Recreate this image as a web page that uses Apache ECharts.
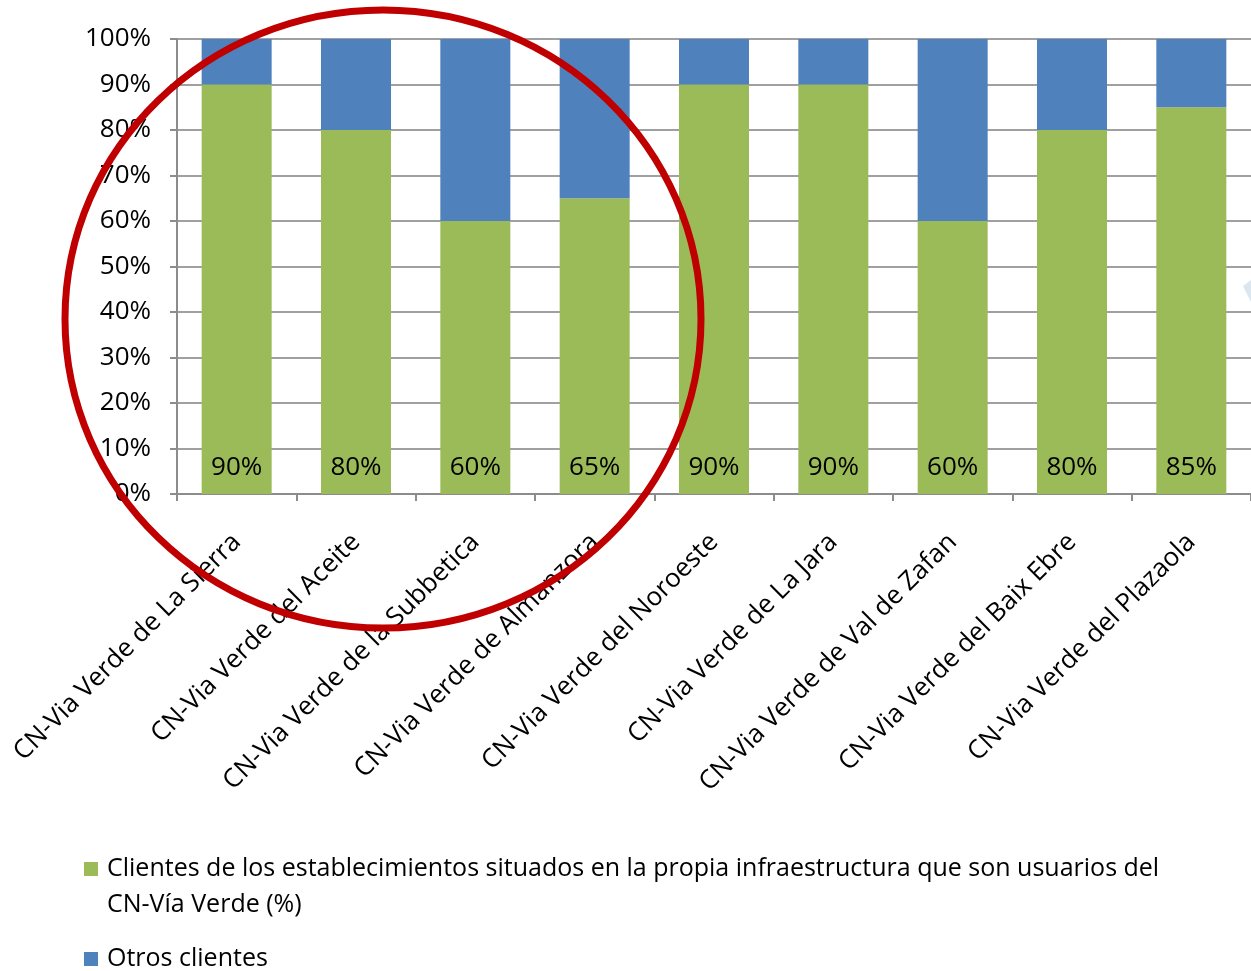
<!DOCTYPE html>
<html>
<head>
<meta charset="utf-8">
<script src="https://cdn.jsdelivr.net/npm/echarts@6/dist/echarts.min.js"></script>
<style>html,body{margin:0;padding:0;background:#fff}#c{width:1251px;height:971px}</style>
</head>
<body>
<div id="c"></div>
<script>
const categories = [
  'CN-Via Verde de La Sierra',
  'CN-Via Verde del Aceite',
  'CN-Via Verde de la Subbetica',
  'CN-Via Verde de Almanzora',
  'CN-Via Verde del Noroeste',
  'CN-Via Verde de La Jara',
  'CN-Via Verde de Val de Zafan',
  'CN-Via Verde del Baix Ebre',
  'CN-Via Verde del Plazaola'
];
const seriesNames = [
  'Clientes de los establecimientos situados en la propia infraestructura que son usuarios del CN-Vía Verde (%)',
  'Otros clientes'
];
const clientesInfra = [90, 80, 60, 65, 90, 90, 60, 80, 85];
const otrosClientes = [10, 20, 40, 35, 10, 10, 40, 20, 15];

const FONT = 'Open Sans';
const chart = echarts.init(document.getElementById('c'), null, {renderer: 'canvas'});
chart.setOption({
  animation: false,
  backgroundColor: '#ffffff',
  textStyle: {fontFamily: FONT},
  grid: {left: 177, top: 39, width: 1080, height: 455, containLabel: false},
  xAxis: {
    type: 'category',
    data: categories,
    axisLine: {lineStyle: {color: '#8c8c8c', width: 2}},
    axisTick: {show: true, length: 7, lineStyle: {color: '#8c8c8c', width: 2}},
    axisLabel: {rotate: 45, margin: 44, color: '#000', fontSize: 26, fontFamily: FONT, interval: 0}
  },
  yAxis: {
    type: 'value',
    min: 0, max: 100, interval: 10,
    axisLine: {show: true, lineStyle: {color: '#8c8c8c', width: 2}},
    axisTick: {show: true, length: 7, lineStyle: {color: '#8c8c8c', width: 2}},
    splitLine: {show: true, lineStyle: {color: '#a0a0a0', width: 2}},
    axisLabel: {formatter: '{value}%', color: '#000', fontSize: 26, fontFamily: FONT, margin: 26}
  },
  legend: [
    {
      data: [seriesNames[0]],
      orient: 'vertical',
      left: 84, top: 851,
      padding: 0,
      itemWidth: 14, itemHeight: 50,
      icon: 'path://M0,0L14,0L14,14L0,14Z M0,49.95L0.05,49.95L0.05,50L0,50Z',
      formatter: function (n) { return n.replace(' CN-Vía', '\nCN-Vía'); },
      textStyle: {fontSize: 25, fontFamily: FONT, color: '#000', lineHeight: 36, padding: [0, 0, 0, 4]}
    },
    {
      data: [seriesNames[1]],
      orient: 'vertical',
      left: 84, top: 941,
      padding: 0,
      itemWidth: 14, itemHeight: 14,
      icon: 'rect',
      textStyle: {fontSize: 25, fontFamily: FONT, color: '#000', lineHeight: 36, padding: [0, 0, 0, 4]}
    }
  ],
  series: [
    {
      name: seriesNames[0],
      type: 'bar',
      stack: 'total',
      barWidth: 70,
      data: clientesInfra,
      itemStyle: {color: '#9BBB59'},
      label: {
        show: true, position: 'insideBottom', distance: 13,
        formatter: '{c}%', color: '#000', fontSize: 26, fontFamily: FONT
      }
    },
    {
      name: seriesNames[1],
      type: 'bar',
      stack: 'total',
      barWidth: 70,
      data: otrosClientes,
      itemStyle: {color: '#4F81BD'}
    }
  ],
  graphic: [
    {
      type: 'ellipse',
      z: 100,
      shape: {cx: 383, cy: 319, rx: 318, ry: 309},
      style: {fill: 'none', stroke: '#C00000', lineWidth: 7}
    },
    {
      type: 'polygon',
      z: 90,
      shape: {points: [[1243, 286], [1251, 280], [1251, 302]]},
      style: {fill: '#DCE6EE'}
    }
  ]
});
</script>
</body>
</html>
